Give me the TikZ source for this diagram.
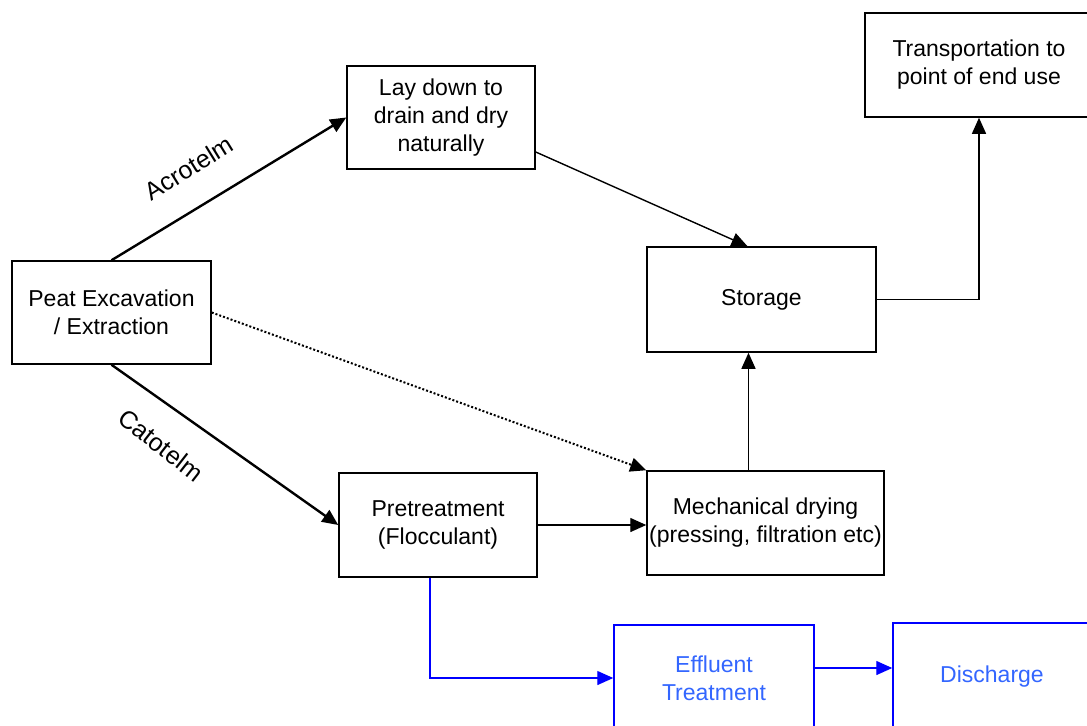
\documentclass[tikz,border=0pt]{standalone}
\usepackage{fontspec}
\setmainfont{Liberation Sans}
\usepackage{xcolor}
\usetikzlibrary{arrows.meta,calc}
\definecolor{linkblue}{RGB}{0,0,255}
\definecolor{textblue}{RGB}{51,102,255}

\begin{document}
\begin{tikzpicture}[x=0.5pt,y=-0.5pt,>={Triangle[length=8pt,width=7pt]},every node/.style={align=center,font=\fontsize{11.5}{14}\selectfont},box/.style={draw,line width=0.75pt,inner sep=0pt},bbox/.style={box,draw=linkblue,text=textblue},thick flow/.style={->,line width=1.2pt},flow/.style={->,line width=0.7pt}]
\useasboundingbox (0,0) rectangle (1087,725);
\clip (0,0) rectangle (1087,725);
\node[box,minimum width=99.5pt,minimum height=51.5pt] (peat) at (111.5,312.5) {Peat Excavation\\/ Extraction};
\node[box,minimum width=94pt,minimum height=51.5pt] (lay) at (441,117.5) {Lay down to\\drain and dry\\naturally};
\node[box,minimum width=114pt,minimum height=52pt] (trans) at (979,65) {Transportation to\\point of end use};
\node[box,minimum width=114.5pt,minimum height=52.5pt] (store) at (761.5,299.5) {Storage};
\node[box,minimum width=99pt,minimum height=52pt] (pre) at (438,525) {Pretreatment\\(Flocculant)};
\node[box,minimum width=118.5pt,minimum height=52pt] (mech) at (765.5,523) {Mechanical drying\\(pressing, filtration etc)};
\node[bbox,minimum width=100pt,minimum height=53pt] (eff) at (714,678) {Effluent\\Treatment};
\node[bbox,minimum width=99pt,minimum height=54pt] (dis) at (992,677) {Discharge};
\node[rotate=31.7,font=\fontsize{12.5}{14}\selectfont] (acro) at (189,168) {Acrotelm};
\node[rotate=-38,font=\fontsize{12.5}{14}\selectfont] (cato) at (161,445) {Catotelm};
\draw[thick flow] (peat.north)--(lay.west);\draw[thick flow] (peat.south)--(pre.west);
\draw[->,line width=1pt,densely dotted] (peat.east)--(mech.north west);
\draw[flow] (lay.-20)--([xshift=-7pt]store.north);
\draw[flow] (pre.east)--(pre.east -| mech.west);
\draw[flow] ([xshift=-8.5pt]mech.north)--([xshift=-8.5pt]mech.north |- store.south);
\draw[flow] (store.east)-|(trans.south);
\draw[flow,draw=linkblue] ([xshift=-4pt]pre.south)|-(eff.west);
\draw[flow,draw=linkblue] ([yshift=5pt]eff.east)--([yshift=5pt]eff.east -| dis.west);
\end{tikzpicture}
\end{document}
